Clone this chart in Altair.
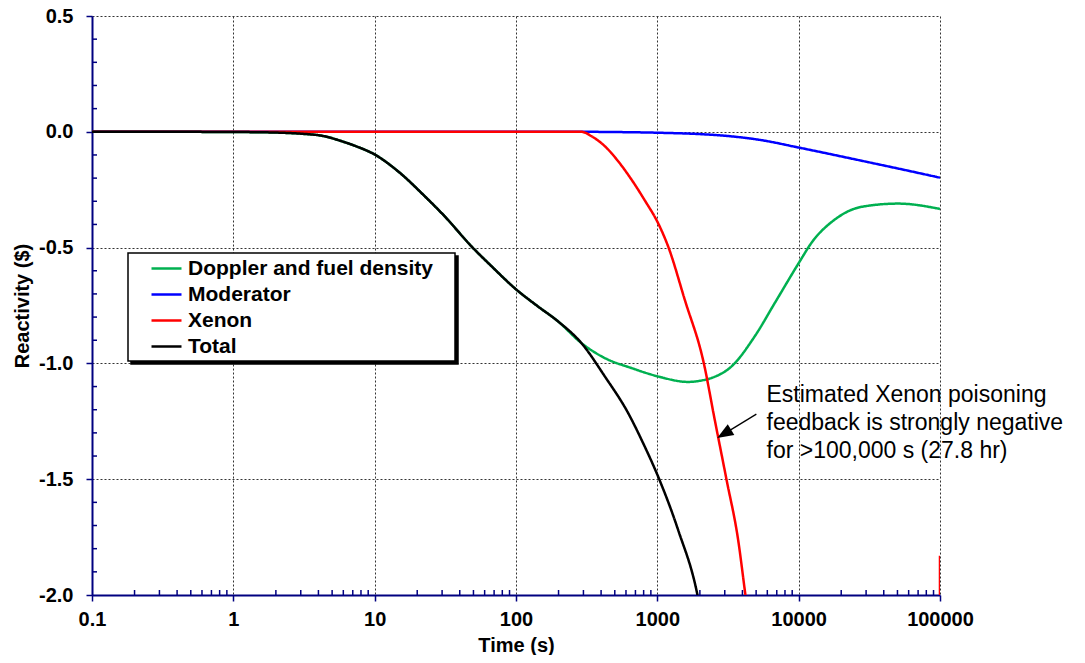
import altair as alt
import pandas as pd

series = ["Doppler and fuel density", "Moderator", "Xenon", "Total"]
colors = ["#00B050", "#0000FF", "#FF0000", "#000000"]

# shared early part of Doppler / Total
early_t = [0.1, 0.3, 1, 1.6, 2.2, 3, 4.4, 5.8, 7.5, 10, 14.6, 22.6, 31.3, 48.3, 67, 100, 143, 198, 290]
early_v = [0, 0, -0.001, -0.002, -0.004, -0.008, -0.019, -0.04, -0.064, -0.098, -0.17, -0.278,
           -0.365, -0.494, -0.58, -0.68, -0.754, -0.818, -0.912]

doppler_t = early_t + [425, 656, 1023, 1652, 2000, 2415, 3350, 4890, 6780, 10190, 12300,
                       18000, 27900, 50600, 100000]
doppler_v = early_v + [-0.977, -1.02, -1.057, -1.08, -1.075, -1.063, -1.013, -0.883, -0.739,
                       -0.559, -0.48, -0.379, -0.324, -0.31, -0.333]

moderator_t = [0.1, 290, 500, 1000, 2000, 3000, 5450, 10000, 27900, 50000, 100000]
moderator_v = [0, 0, -0.001, -0.004, -0.01, -0.017, -0.036, -0.068, -0.125, -0.158, -0.198]

xenon_t = [0.1, 290, 342, 425, 528, 656, 815, 1023, 1191, 1563, 2130, 2547, 3083, 3730, 4200,
           5000, 95000, 100000]
xenon_v = [0, 0, -0.019, -0.062, -0.127, -0.206, -0.296, -0.40, -0.494, -0.725, -0.998, -1.243,
           -1.50, -1.762, -2.0, -2.35, -12.0, -1.83]

total_t = early_t + [425, 621, 793, 1023, 1403, 1923, 2500]
total_v = early_v + [-1.056, -1.214, -1.344, -1.495, -1.719, -2.0, -2.43]

x_major = [0.1, 1, 10, 100, 1000, 10000, 100000]
x_minor = [m * d for d in [0.1, 1, 10, 100, 1000, 10000] for m in range(2, 10)]
y_major = [-2.0, -1.5, -1.0, -0.5, 0.0, 0.5]
y_minor = [round(-2.0 + 0.1 * i, 1) for i in range(26) if i % 5 != 0]

note_lines = ["Estimated Xenon poisoning", "feedback is strongly negative", "for >100,000 s (27.8 hr)"]
note_t = [5920, 5920, 5920]
note_v = [-1.135, -1.256, -1.377]
arrow_tail = (5020, -1.219)
arrow_head = (3006, -1.302)

shadow_series = [s + "*" for s in series]

rows = []
for name, sname, ts, vs in zip(series, shadow_series, [doppler_t, moderator_t, xenon_t, total_t],
                               [doppler_v, moderator_v, xenon_v, total_v]):
    for t, v in zip(ts, vs):
        rows.append({"series": name, "series2": sname, "t": t, "v": v})
df = pd.DataFrame(rows)

NAVY = "#000080"
FONT = "Liberation Sans"
W, H = 848, 579

x_scale = alt.Scale(type="log", domain=[0.1, 100000], nice=False)
y_scale = alt.Scale(domain=[-2.0, 0.5], nice=False, zero=False)

x_axis = alt.Axis(values=x_major, title="Time (s)", grid=True, tickSize=6, labelPadding=8,
                  titlePadding=6,
                  labelExpr="datum.value < 1 ? '0.1' : format(datum.value, 'd')",
                  labelFlush=False, labelOverlap=False)
y_axis = alt.Axis(values=y_major, title="Reactivity ($)", grid=True, tickSize=6, labelPadding=13,
                  titlePadding=6,
                  labelExpr="datum.value < 0 ? '-' + format(-datum.value, '.1f') : format(datum.value, '.1f')",
                  labelFlush=False, labelOverlap=False)

X = alt.X("t:Q", scale=x_scale, axis=x_axis)
Y = alt.Y("v:Q", scale=y_scale, axis=y_axis)

nb = "\u00a0"
legend_common = dict(
    orient="none", title=nb, titleOrient="right", titleFontSize=2,
    symbolType="M-1.5,0L1.5,0", symbolSize=400,
    symbolStrokeWidth=2.5, labelFont=FONT, labelFontSize=21, labelFontWeight="bold",
    padding=4, symbolOffset=23, labelOffset=10, rowPadding=4,
    labelLimit=400,
)

color = alt.Color("series:N", scale=alt.Scale(domain=series, range=colors),
                  legend=alt.Legend(legendX=36, legendY=237, fillColor="white",
                                    strokeColor="black", zindex=2, labelColor="black",
                                    titlePadding=18, **legend_common))
# drop shadow of the legend box: same layout, empty labels, width made up by title padding
shadow = alt.StrokeDash("series2:N", scale=alt.Scale(domain=shadow_series, range=[[1, 0]] * 4),
                        legend=alt.Legend(legendX=39, legendY=240, fillColor="black",
                                          strokeColor="black", zindex=1, labelColor="black",
                                          labelExpr="''", titlePadding=263,
                                          symbolFillColor="black", symbolStrokeColor="black",
                                          **legend_common))

layers = []
for s in series:
    layers.append(
        alt.Chart(df).transform_filter(alt.datum.series == s)
        .mark_line(clip=True, strokeWidth=2.5, interpolate="monotone")
        .encode(x=X, y=Y, color=color, strokeDash=shadow)
    )

xminor = alt.Chart(pd.DataFrame({"t": x_minor})).mark_rule(color=NAVY, strokeWidth=1.5).encode(
    x=X, y=alt.value(H), y2=alt.value(H - 5))
yminor = alt.Chart(pd.DataFrame({"v": y_minor})).mark_rule(color=NAVY, strokeWidth=1.5).encode(
    y=Y, x=alt.value(0), x2=alt.value(5))

note = alt.Chart(pd.DataFrame({"t": note_t, "v": note_v, "txt": note_lines})).mark_text(
    align="left", baseline="middle", font=FONT, fontSize=23, color="black").encode(
    x=X, y=Y, text="txt:N")

arrow = alt.Chart(pd.DataFrame({"t": [arrow_tail[0]], "v": [arrow_tail[1]],
                                "t2": [arrow_head[0]], "v2": [arrow_head[1]]})).mark_rule(
    color="black", strokeWidth=1.3).encode(x=X, y=Y, x2="t2:Q", y2="v2:Q")
head = alt.Chart(pd.DataFrame({"t": [arrow_head[0]], "v": [arrow_head[1]]})).mark_point(
    shape="M0,-1L0.7,0.8L-0.7,0.8Z", filled=True, size=324, angle=238.6, color="black",
    opacity=1, strokeWidth=0).encode(x=X, y=Y)

chart = alt.layer(*layers, xminor, yminor, arrow, head, note).properties(
    width=W, height=H,
    autosize=alt.AutoSizeParams(type="none"),
    padding={"left": 84, "top": 8, "right": 137, "bottom": 60},
).configure_view(stroke=None).configure_axis(
    labelFont=FONT, labelFontSize=20, labelFontWeight="bold", labelColor="black",
    titleFont=FONT, titleFontSize=20, titleFontWeight="bold", titleColor="black",
    domainColor=NAVY, domainWidth=2, tickColor=NAVY, tickWidth=1.5,
    gridColor="#333333", gridDash=[2, 2], gridWidth=1, gridOpacity=1,
).configure_legend(strokeWidth=1.5)

chart.save("out.html", embed_options={"renderer": "svg", "actions": False})
